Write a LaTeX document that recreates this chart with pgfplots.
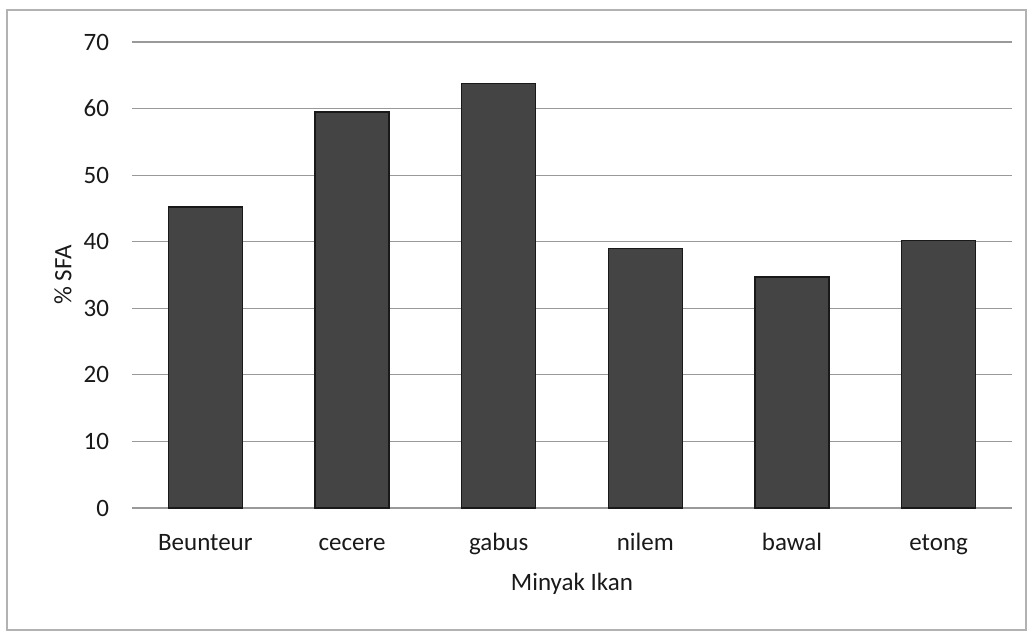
\documentclass[border=0pt]{standalone}
\usepackage{pgfplots}
\pgfplotsset{compat=1.18}
\usepackage{fontspec}
\setmainfont{Carlito}
\begin{document}
\begin{tikzpicture}
\begin{axis}[
  scale only axis, width=440pt, height=233pt,
  ybar, bar width=37pt,
  xmin=-0.5, xmax=5.5, ymin=0, ymax=70,
  ytick={0,10,...,70},
  xtick=data,
  xticklabels={Beunteur,cecere,gabus,nilem,bawal,etong},
  axis line style={draw=none},
  major tick length=0pt,
  ymajorgrids, grid style={black!40, line width=0.6pt},
  /pgf/number format/assume math mode=true,
  tick label style={font=\fontsize{12.5}{14}\selectfont, text=black!90},
  yticklabel style={xshift=-8pt},
  xticklabel style={anchor=base, yshift=-21pt},
  xlabel={Minyak Ikan}, ylabel={\% SFA},
  label style={font=\fontsize{12.5}{14}\selectfont, text=black!90},
  xlabel style={at={(axis description cs:0.5,-0.176)}, anchor=base},
  ylabel style={at={(axis description cs:-0.0784,0.5)}, anchor=center},
  clip=false,
]
\addplot[fill={rgb,255:red,68;green,68;blue,68}, draw=black!90, line width=0.6pt]
  coordinates {(0,45.2) (1,59.5) (2,63.8) (3,39.0) (4,34.7) (5,40.2)};
\path (rel axis cs:0,0) ++(-66pt,-62pt) rectangle ++(516pt,316pt);
\draw[black!30, line width=0.6pt] (rel axis cs:0,0) ++(-62.5pt,-61pt) rectangle ++(509.5pt,310pt);
\end{axis}
\end{tikzpicture}
\end{document}
